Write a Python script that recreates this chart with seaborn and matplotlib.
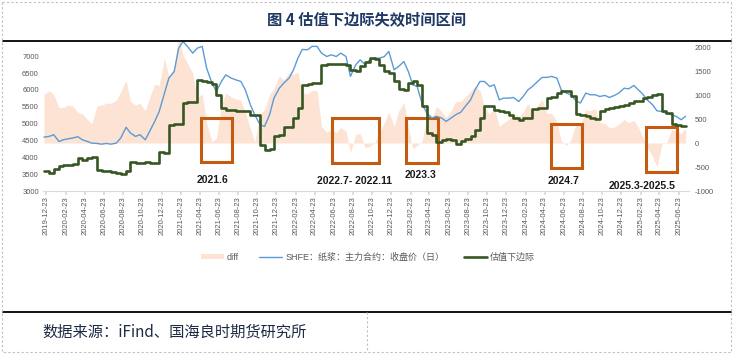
import numpy as np
import pandas as pd
import matplotlib
matplotlib.use('Agg')
import matplotlib.pyplot as plt
import matplotlib.dates as mdates
from matplotlib.patches import Rectangle, Patch
from matplotlib.lines import Line2D
import seaborn as sns

sns.set_theme(style='white')
plt.rcParams['font.family'] = ['Liberation Sans', 'Noto Sans CJK SC']
plt.rcParams['axes.unicode_minus'] = False

# 半月采样日期 (1日/15日)
dates = pd.date_range('2019-12-15', '2025-07-15', freq='SMS')

# SHFE 纸浆主力合约收盘价
price = [
    4600, 4620, 4670, 4470, 4520, 4550, 4570, 4610, 4520, 4470, 4420, 4410,
    4390, 4410, 4390, 4420, 4570, 4890, 4720, 4620, 4670, 4520, 4770, 5065,
    5350, 5900, 6350, 6545, 7237, 7435, 7290, 7090, 7237, 7290, 6645, 6200,
    5955, 6250, 6445, 6350, 6300, 6250, 6000, 5560, 5260, 4965, 4915, 5260,
    5755, 6050, 6200, 6350, 6595, 6940, 7200, 7190, 7290, 7290, 7090, 6990,
    7040, 6990, 7090, 6990, 6400, 6745, 6890, 6745, 6890, 6940, 6940, 6990,
    7140, 6595, 6695, 6840, 6545, 6150, 6100, 5560, 5310, 5165, 5215, 5165,
    5065, 5165, 5260, 5340, 5510, 5705, 6000, 6250, 6250, 6100, 6150, 5705,
    5755, 5755, 5775, 5655, 5805, 6000, 6100, 6250, 6370, 6370, 6400, 6350,
    6000, 5905, 5855, 5675, 5610, 5905, 5855, 5855, 5805, 5835, 5775, 5835,
    5905, 6050, 6030, 6130, 6000, 5875, 5705, 5560, 5380, 5360, 5310, 5260,
    5215, 5115, 5215,
]

# 估值下边际
lower = [
    3583, 3533, 3662, 3731, 3780, 3761, 3800, 3978, 3909, 3978, 4017, 3632,
    3602, 3583, 3563, 3533, 3504, 3583, 3859, 3830, 3840, 3850, 3820, 3840,
    4155, 4135, 4965, 4985, 4985, 5607, 5627, 5640, 6300, 6270, 6230, 6170,
    5855, 5460, 5410, 5390, 5380, 5360, 5360, 5260, 5240, 4353, 4225, 4245,
    4620, 4650, 4890, 4890, 5163, 5460, 6150, 6170, 6190, 6200, 6745, 6765,
    6765, 6765, 6765, 6745, 6595, 6565, 6695, 6840, 6960, 6920, 6725, 6565,
    6495, 6250, 6030, 6000, 6200, 6270, 6150, 5510, 4718, 4668, 4450, 4510,
    4530, 4500, 4400, 4470, 4550, 4620, 4820, 5160, 5510, 5510, 5410, 5360,
    5340, 5260, 5163, 5113, 5163, 5180, 5440, 5460, 5460, 5755, 5775, 5905,
    5955, 5955, 5805, 5280, 5240, 5215, 5180, 5142, 5380, 5430, 5460, 5500,
    5510, 5560, 5607, 5657, 5675, 5755, 5795, 5835, 5875, 5380, 5310, 4985,
    4945, 4915, 4915,
]

# 失效区间 (起, 止, diff下沿, diff上沿) 及标注
fail_periods = [
    ('2021-04-26', '2021-08-05', -400, 520),
    ('2022-06-17', '2022-11-14', -420, 520),
    ('2023-02-08', '2023-05-20', -420, 520),
    ('2024-05-14', '2024-08-20', -520, 400),
    ('2025-03-10', '2025-06-17', -600, 330),
]
fail_labels = ['2021.6', '2022.7- 2022.11', '2023.3', '2024.7', '2025.3-2025.5']
label_dates = ['2021-06-03', '2022-08-29', '2023-03-27', '2024-06-23', '2025-02-28']
label_values = [-770, -790, -667, -790, -896]

tick_dates = pd.date_range('2019-12-23', '2025-06-23', freq=pd.DateOffset(months=2))

df = pd.DataFrame({'date': dates, 'price': price, 'lower': lower})
df['diff'] = df['price'] - df['lower']

W, H = 733, 356
fig = plt.figure(figsize=(W / 100, H / 100), dpi=100)
ax = fig.add_axes([43 / W, 1 - 191 / H, (689 - 43) / W, (191 - 41) / H])

# diff 面积 (右轴)
ax.fill_between(df['date'], 0, df['diff'], color='#FCE3D3', linewidth=0, zorder=1)
ax.set_ylim(-1000, 2125)
ax.set_yticks(range(-1000, 2001, 500))
ax.set_xlim(pd.Timestamp('2019-12-12'), pd.Timestamp('2025-07-26'))

for (s, e, lo, hi) in fail_periods:
    x0 = mdates.date2num(pd.Timestamp(s))
    x1 = mdates.date2num(pd.Timestamp(e))
    ax.add_patch(Rectangle((x0, lo), x1 - x0, hi - lo, fill=False,
                           edgecolor='#C55A11', linewidth=2.2, zorder=5))
for txt, d, v in zip(fail_labels, label_dates, label_values):
    ax.text(pd.Timestamp(d), v, txt, ha='center', va='center', fontsize=7.5,
            fontweight='bold', color='#1a1a1a', family=['Liberation Sans'])

# 价格和下边际 (左轴)
ax2 = ax.twinx()
sns.lineplot(data=df, x='date', y='price', ax=ax2, color='#5B9BD5', linewidth=1.0)
sns.lineplot(data=df, x='date', y='lower', ax=ax2, color='#375623', linewidth=1.9,
             drawstyle='steps-post')
ax2.set_ylim(3000, 7450)
ax2.set_yticks(range(3000, 7001, 500))
ax2.set_xlabel('')
ax2.set_ylabel('')
ax.set_xlabel('')
ax.set_ylabel('')

ax.yaxis.tick_right()
ax2.yaxis.tick_left()
ax.tick_params(axis='y', length=0, pad=4, labelsize=5.5, labelcolor='#595959')
ax2.tick_params(axis='y', length=0, pad=3, labelsize=5.5, labelcolor='#595959')

ax.set_xticks(tick_dates)
ax.set_xticklabels([d.strftime('%Y-%m-%d') for d in tick_dates], rotation=90)
ax.tick_params(axis='x', length=3, color='#D9D9D9', pad=1, labelsize=5.5,
               labelcolor='#595959', bottom=True)

for sp in ax.spines.values():
    sp.set_visible(False)
for sp in ax2.spines.values():
    sp.set_visible(False)
ax.spines['bottom'].set_visible(True)
ax.spines['bottom'].set_color('#D9D9D9')
ax.spines['bottom'].set_linewidth(0.8)
ax.grid(False)
ax2.grid(False)

# 图例
handles = [Patch(facecolor='#FCE3D3', edgecolor='none'),
           Line2D([], [], color='#5B9BD5', linewidth=1.0),
           Line2D([], [], color='#375623', linewidth=1.9)]
labels = ['diff', 'SHFE：纸浆：主力合约：收盘价（日）', '估值下边际']
leg = fig.legend(handles, labels, loc='center', bbox_to_anchor=(0.502, 0.277),
                 ncol=3, frameon=False, fontsize=6.5, handlelength=2.6,
                 handleheight=0.5, columnspacing=2.2, handletextpad=0.3)
for t in leg.get_texts():
    t.set_color('#595959')

# 标题、来源和边框
fig.text(0.5, 1 - 20 / H, '图 4 估值下边际失效时间区间', ha='center', va='center',
         fontsize=11, fontweight='bold', color='#1F3864', family=['Noto Sans CJK SC'])
fig.text(42 / W, 1 - 332 / H, '数据来源：iFind、国海良时期货研究所', ha='left',
         va='center', fontsize=11, color='#1F2A44', family=['Noto Sans CJK SC'])

fig.add_artist(Line2D([3 / W, 731 / W], [1 - 41 / H, 1 - 41 / H], color='black',
                      linewidth=1.3, transform=fig.transFigure))
fig.add_artist(Line2D([3 / W, 731 / W], [1 - 312 / H, 1 - 312 / H], color='black',
                      linewidth=1.3, transform=fig.transFigure))
dash = dict(color='#BFBFBF', linewidth=0.8, linestyle=(0, (2, 2)), transform=fig.transFigure)
fig.add_artist(Line2D([2 / W, 731 / W, 731 / W, 2 / W, 2 / W],
                      [1 - 2 / H, 1 - 2 / H, 1 - 352 / H, 1 - 352 / H, 1 - 2 / H], **dash))
fig.add_artist(Line2D([367 / W, 367 / W], [1 - 312 / H, 1 - 352 / H], **dash))

fig.savefig('out.png', dpi=100)
